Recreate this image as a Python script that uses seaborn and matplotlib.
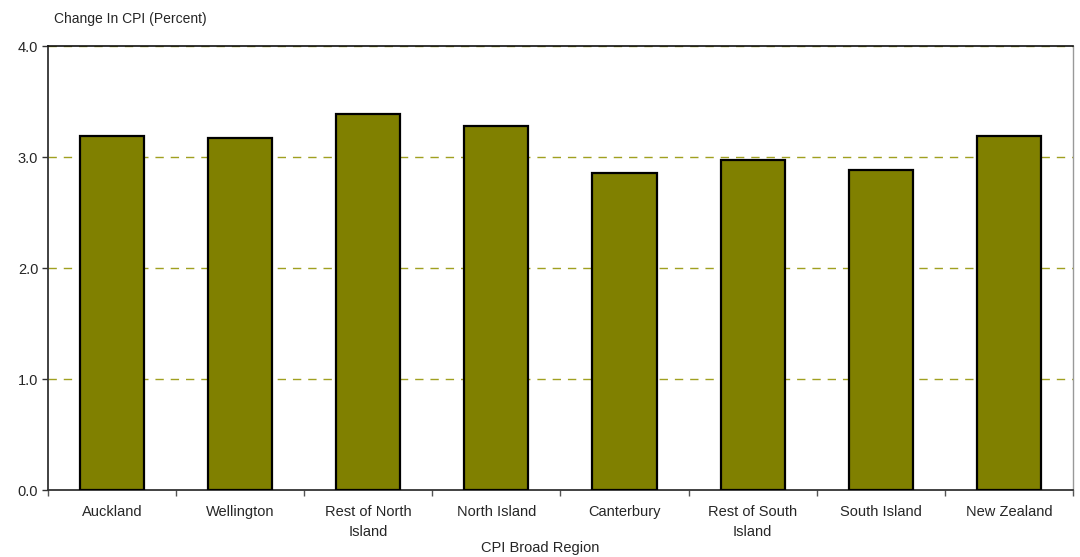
import numpy as np
import pandas as pd
import matplotlib.pyplot as plt
import seaborn as sns

# Chart data
regions = ['Auckland', 'Wellington', 'Rest of North\nIsland', 'North Island',
           'Canterbury', 'Rest of South\nIsland', 'South Island', 'New Zealand']
cpi_change = [3.19, 3.17, 3.39, 3.28, 2.86, 2.97, 2.88, 3.19]
y_ticks = [0.0, 1.0, 2.0, 3.0, 4.0]

df = pd.DataFrame({'region': regions, 'cpi': cpi_change})

sns.set_style('white')
plt.rcParams['font.family'] = ['Liberation Sans', 'DejaVu Sans']

fig = plt.figure(figsize=(10.8, 5.57), dpi=100)
ax = fig.add_axes([0.0444, 0.1197, 0.9491, 0.7977])

sns.barplot(data=df, x='region', y='cpi', color='#808000', width=0.5,
            edgecolor='black', linewidth=1.6, saturation=1, ax=ax, zorder=3)

# dashed gridlines
for v in y_ticks[1:]:
    ax.axhline(v, color='#a0a020', linestyle=(0, (6, 5)), linewidth=1, zorder=1)

ax.set_ylim(0, 4)
ax.set_xlim(-0.5, len(regions) - 0.5)
ax.set_yticks(y_ticks)
ax.set_yticklabels([f'{v:.1f}' for v in y_ticks], fontsize=10.5)
ax.tick_params(axis='y', length=4, width=1, color='#333333', pad=3, left=True)

# x ticks sit between categories
ax.set_xticks(range(len(regions)))
ax.set_xticklabels(regions, fontsize=10.5, linespacing=1.55)
ax.tick_params(axis='x', which='major', length=0, pad=10.5)
ax.set_xticks(np.arange(-0.5, len(regions)), minor=True)
ax.tick_params(axis='x', which='minor', length=4, width=1, color='#555555', bottom=True)

for side in ['left', 'bottom']:
    ax.spines[side].set_color('#333333')
    ax.spines[side].set_linewidth(1.3)
ax.spines['top'].set_color('#111111')
ax.spines['top'].set_linewidth(1.2)
ax.spines['right'].set_color('#999999')
ax.spines['right'].set_linewidth(1)

ax.set_ylabel('')
ax.set_xlabel('')
fig.text(0.5, 1 - 548 / 557, 'CPI Broad Region', fontsize=10.5, ha='center', va='center')
fig.text(0.05, 1 - 19 / 557, 'Change In CPI (Percent)', fontsize=10, ha='left', va='center')

fig.savefig('out.png', dpi=100)
